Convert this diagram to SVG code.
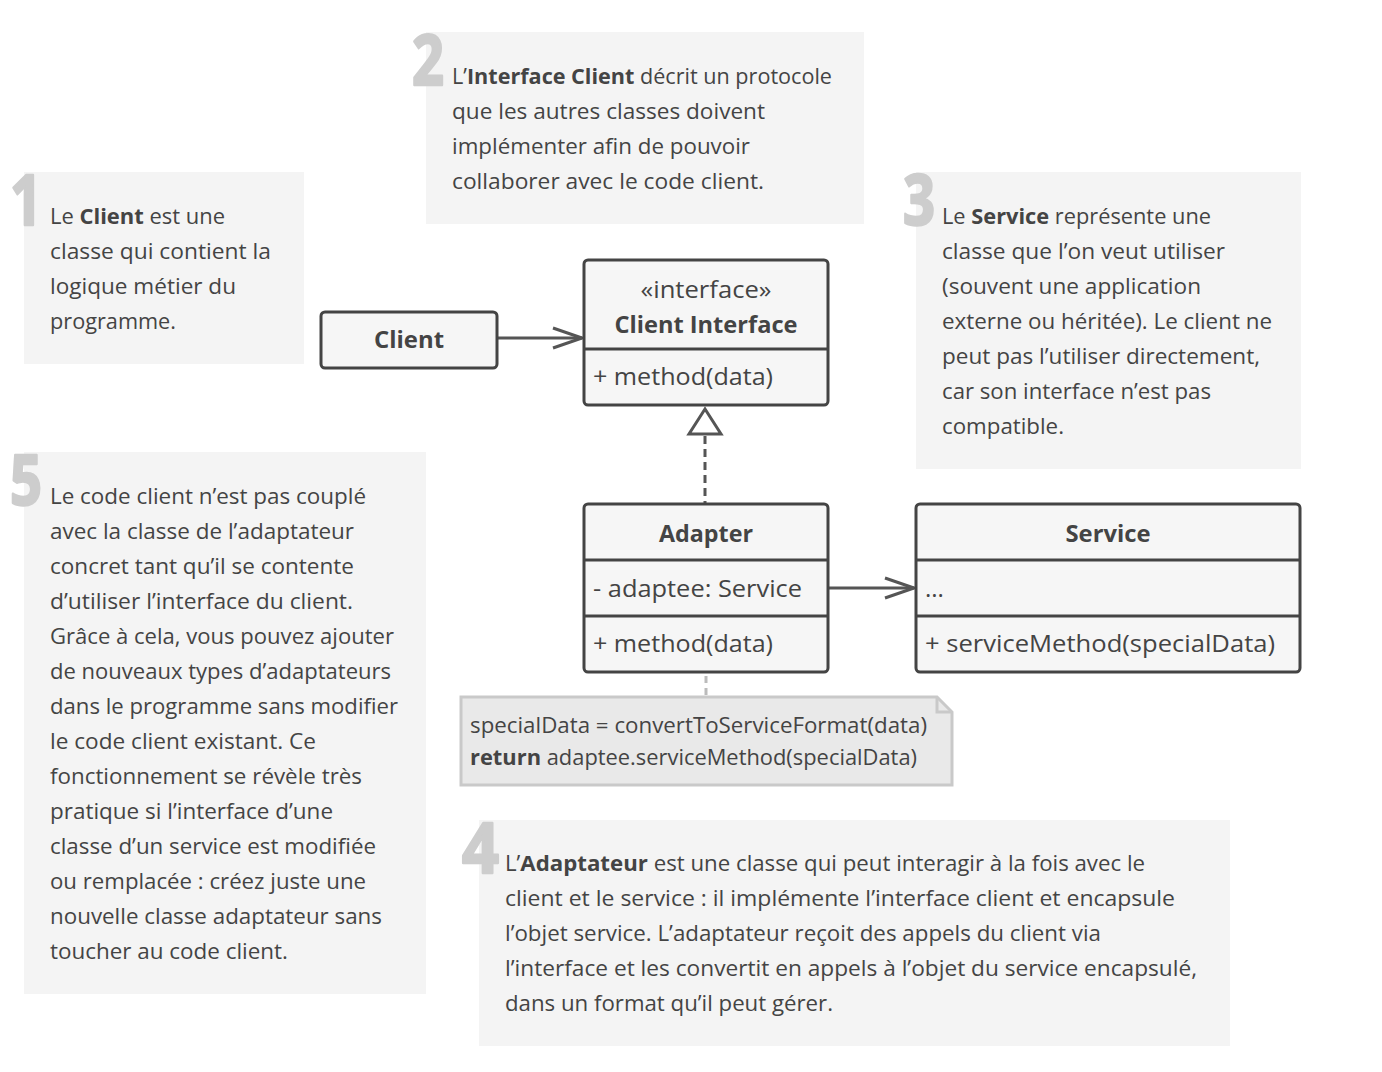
<svg xmlns="http://www.w3.org/2000/svg" width="1382" height="1072" viewBox="0 0 1382 1072">
<style>
.panel{fill:#f4f4f4}
.num{font-family:"Open Sans","DejaVu Sans",sans-serif;font-weight:bold;font-size:70px;fill:#cdcdcd;stroke:#cdcdcd;stroke-width:2.5px;stroke-linejoin:round}
.t{font-family:"Open Sans","DejaVu Sans",sans-serif;font-size:22px;fill:#444}
.b{font-weight:bold}
.box{fill:#f6f6f6;stroke:#444;stroke-width:3}
.div{stroke:#444;stroke-width:3}
.u{font-family:"Open Sans","DejaVu Sans",sans-serif;font-size:24px;fill:#444}
.ub{font-family:"Open Sans","DejaVu Sans",sans-serif;font-size:24px;font-weight:bold;fill:#444}
.n{font-family:"Open Sans","DejaVu Sans",sans-serif;font-size:21px;fill:#444}
.conn{stroke:#555;stroke-width:3;fill:none}
</style>
<defs>
<marker id="open" markerUnits="userSpaceOnUse" markerWidth="34" markerHeight="26" refX="30" refY="12" orient="auto">
<path d="M1,2 L30,12 L1,22" fill="none" stroke="#555" stroke-width="3"/>
</marker>
</defs>
<rect width="1382" height="1072" fill="#ffffff"/>

<g id="panel1">
<rect class="panel" x="24" y="172" width="280" height="192"/>
<text class="num" x="10" y="225" textLength="32" lengthAdjust="spacingAndGlyphs">1</text>
<text class="t" x="50" y="224" textLength="175" lengthAdjust="spacingAndGlyphs">Le <tspan class="b">Client</tspan> est une</text>
<text class="t" x="50" y="259" textLength="221" lengthAdjust="spacingAndGlyphs">classe qui contient la</text>
<text class="t" x="50" y="294" textLength="186" lengthAdjust="spacingAndGlyphs">logique métier du</text>
<text class="t" x="50" y="329" textLength="126" lengthAdjust="spacingAndGlyphs">programme.</text>
</g>

<g id="panel2">
<rect class="panel" x="426" y="32" width="438" height="192"/>
<text class="num" x="412" y="85" textLength="32" lengthAdjust="spacingAndGlyphs">2</text>
<text class="t" x="452" y="84" textLength="380" lengthAdjust="spacingAndGlyphs">L’<tspan class="b">Interface Client</tspan> décrit un protocole</text>
<text class="t" x="452" y="119" textLength="313" lengthAdjust="spacingAndGlyphs">que les autres classes doivent</text>
<text class="t" x="452" y="154" textLength="298" lengthAdjust="spacingAndGlyphs">implémenter afin de pouvoir</text>
<text class="t" x="452" y="189" textLength="312" lengthAdjust="spacingAndGlyphs">collaborer avec le code client.</text>
</g>

<g id="panel3">
<rect class="panel" x="916" y="172" width="385" height="297"/>
<text class="num" x="903" y="225" textLength="32" lengthAdjust="spacingAndGlyphs">3</text>
<text class="t" x="942" y="224" textLength="269" lengthAdjust="spacingAndGlyphs">Le <tspan class="b">Service</tspan> représente une</text>
<text class="t" x="942" y="259" textLength="283" lengthAdjust="spacingAndGlyphs">classe que l’on veut utiliser</text>
<text class="t" x="942" y="294" textLength="259" lengthAdjust="spacingAndGlyphs">(souvent une application</text>
<text class="t" x="942" y="329" textLength="330" lengthAdjust="spacingAndGlyphs">externe ou héritée). Le client ne</text>
<text class="t" x="942" y="364" textLength="318" lengthAdjust="spacingAndGlyphs">peut pas l’utiliser directement,</text>
<text class="t" x="942" y="399" textLength="269" lengthAdjust="spacingAndGlyphs">car son interface n’est pas</text>
<text class="t" x="942" y="434" textLength="122" lengthAdjust="spacingAndGlyphs">compatible.</text>
</g>

<g id="panel5">
<rect class="panel" x="24" y="452" width="402" height="542"/>
<text class="num" x="10" y="505" textLength="32" lengthAdjust="spacingAndGlyphs">5</text>
<text class="t" x="50" y="504" textLength="316" lengthAdjust="spacingAndGlyphs">Le code client n’est pas couplé</text>
<text class="t" x="50" y="539" textLength="304" lengthAdjust="spacingAndGlyphs">avec la classe de l’adaptateur</text>
<text class="t" x="50" y="574" textLength="304" lengthAdjust="spacingAndGlyphs">concret tant qu’il se contente</text>
<text class="t" x="50" y="609" textLength="303" lengthAdjust="spacingAndGlyphs">d’utiliser l’interface du client.</text>
<text class="t" x="50" y="644" textLength="344" lengthAdjust="spacingAndGlyphs">Grâce à cela, vous pouvez ajouter</text>
<text class="t" x="50" y="679" textLength="341" lengthAdjust="spacingAndGlyphs">de nouveaux types d’adaptateurs</text>
<text class="t" x="50" y="714" textLength="348" lengthAdjust="spacingAndGlyphs">dans le programme sans modifier</text>
<text class="t" x="50" y="749" textLength="266" lengthAdjust="spacingAndGlyphs">le code client existant. Ce</text>
<text class="t" x="50" y="784" textLength="312" lengthAdjust="spacingAndGlyphs">fonctionnement se révèle très</text>
<text class="t" x="50" y="819" textLength="283" lengthAdjust="spacingAndGlyphs">pratique si l’interface d’une</text>
<text class="t" x="50" y="854" textLength="326" lengthAdjust="spacingAndGlyphs">classe d’un service est modifiée</text>
<text class="t" x="50" y="889" textLength="316" lengthAdjust="spacingAndGlyphs">ou remplacée : créez juste une</text>
<text class="t" x="50" y="924" textLength="332" lengthAdjust="spacingAndGlyphs">nouvelle classe adaptateur sans</text>
<text class="t" x="50" y="959" textLength="238" lengthAdjust="spacingAndGlyphs">toucher au code client.</text>
</g>

<g id="panel4">
<rect class="panel" x="479" y="820" width="751" height="226"/>
<text class="num" x="462" y="873" textLength="37" lengthAdjust="spacingAndGlyphs">4</text>
<text class="t" x="505" y="871" textLength="640" lengthAdjust="spacingAndGlyphs">L’<tspan class="b">Adaptateur</tspan> est une classe qui peut interagir à la fois avec le</text>
<text class="t" x="505" y="906" textLength="670" lengthAdjust="spacingAndGlyphs">client et le service : il implémente l’interface client et encapsule</text>
<text class="t" x="505" y="941" textLength="596" lengthAdjust="spacingAndGlyphs">l’objet service. L’adaptateur reçoit des appels du client via</text>
<text class="t" x="505" y="976" textLength="692" lengthAdjust="spacingAndGlyphs">l’interface et les convertit en appels à l’objet du service encapsulé,</text>
<text class="t" x="505" y="1011" textLength="328" lengthAdjust="spacingAndGlyphs">dans un format qu’il peut gérer.</text>
</g>

<g id="connectors">
<line class="conn" x1="497" y1="338" x2="582" y2="338" marker-end="url(#open)"/>
<line class="conn" x1="828" y1="588" x2="914" y2="588" marker-end="url(#open)"/>
<line class="conn" x1="705" y1="436" x2="705" y2="503" stroke-dasharray="8 5"/>
<path d="M705,409 L689,434 L721,434 Z" fill="#ffffff" stroke="#555" stroke-width="3" stroke-linejoin="miter"/>
<line x1="706" y1="676" x2="706" y2="696" stroke="#bbbbbb" stroke-width="3" stroke-dasharray="7 5"/>
</g>

<g id="client">
<rect class="box" x="321" y="312" width="176" height="56" rx="4"/>
<text class="ub" x="409" y="348" text-anchor="middle" textLength="70" lengthAdjust="spacingAndGlyphs">Client</text>
</g>

<g id="client-interface">
<rect class="box" x="584" y="260" width="244" height="145" rx="4"/>
<line class="div" x1="584" y1="349" x2="828" y2="349"/>
<text class="u" x="706" y="298" text-anchor="middle" textLength="131" lengthAdjust="spacingAndGlyphs">«interface»</text>
<text class="ub" x="706" y="333" text-anchor="middle" textLength="183" lengthAdjust="spacingAndGlyphs">Client Interface</text>
<text class="u" x="593" y="385" textLength="180" lengthAdjust="spacingAndGlyphs">+ method(data)</text>
</g>

<g id="adapter">
<rect class="box" x="584" y="504" width="244" height="168" rx="4"/>
<line class="div" x1="584" y1="560" x2="828" y2="560"/>
<line class="div" x1="584" y1="616" x2="828" y2="616"/>
<text class="ub" x="706" y="542" text-anchor="middle" textLength="94" lengthAdjust="spacingAndGlyphs">Adapter</text>
<text class="u" x="593" y="597" textLength="209" lengthAdjust="spacingAndGlyphs">- adaptee: Service</text>
<text class="u" x="593" y="652" textLength="180" lengthAdjust="spacingAndGlyphs">+ method(data)</text>
</g>

<g id="service">
<rect class="box" x="916" y="504" width="384" height="168" rx="4"/>
<line class="div" x1="916" y1="560" x2="1300" y2="560"/>
<line class="div" x1="916" y1="616" x2="1300" y2="616"/>
<text class="ub" x="1108" y="542" text-anchor="middle" textLength="85" lengthAdjust="spacingAndGlyphs">Service</text>
<text class="u" x="925" y="597">...</text>
<text class="u" x="925" y="652" textLength="350" lengthAdjust="spacingAndGlyphs">+ serviceMethod(specialData)</text>
</g>

<g id="note">
<path d="M461,697 H937 L952,712 V785 H461 Z" fill="#e9e9e9" stroke="#c9c9c9" stroke-width="3"/>
<path d="M937,697 V712 H952" fill="none" stroke="#c9c9c9" stroke-width="3"/>
<text class="n" x="470" y="733" textLength="457" lengthAdjust="spacingAndGlyphs">specialData = convertToServiceFormat(data)</text>
<text class="n" x="470" y="765" textLength="447" lengthAdjust="spacingAndGlyphs"><tspan class="b">return</tspan> adaptee.serviceMethod(specialData)</text>
</g>
</svg>
